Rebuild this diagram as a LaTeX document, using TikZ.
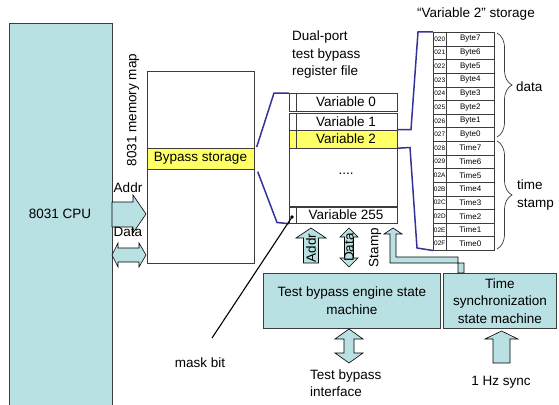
\documentclass[tikz,border=0pt]{standalone}
\usepackage{fontspec}
\setmainfont{Liberation Sans}
\usetikzlibrary{decorations.pathreplacing}
\definecolor{busfill}{RGB}{185,224,226}
\definecolor{hilite}{RGB}{255,255,102}
\definecolor{linkblue}{RGB}{51,51,153}
\definecolor{edge}{RGB}{60,60,60}
\tikzset{
  lbl/.style={font=\fontsize{13.5}{17.5}\selectfont, inner sep=0pt},
  blk/.style={draw=edge, line width=0.8pt, fill=busfill, inner sep=0pt, anchor=north west},
  mem/.style={draw=edge, line width=0.7pt, fill=white, inner sep=0pt, anchor=north west},
  bus/.style={draw=black, line width=0.6pt, fill=busfill, line join=miter},
  link/.style={draw=linkblue, line width=1.5pt},
  cell/.style={draw=edge, line width=0.5pt, fill=white, inner sep=0pt, anchor=north west, minimum height=13.625pt},
  addrtxt/.style={font=\fontsize{6.5}{7}\selectfont, inner sep=0pt},
  nametxt/.style={font=\fontsize{8}{9}\selectfont, inner sep=0pt},
  bracket/.style={draw=edge, line width=0.7pt, decorate, decoration={brace, amplitude=15pt}},
}
\begin{document}
\begin{tikzpicture}[x=1pt,y=-1pt]
\useasboundingbox (0,0) rectangle (559,404);

% processor block (runs off the bottom edge)
\node[blk, minimum width=103pt, minimum height=390pt] (cpu) at (9,23) {};
\node[lbl] (cpulbl) at (60,214) {8031 CPU};

% processor buses to the memory map
\path[bus] (112,202) -- (133,202) -- (133,195) -- (146,214) -- (133,233) -- (133,227) -- (112,227) -- cycle;
\node[lbl] (caddr) at (128,188) {Addr};
\path[bus] (112,255) -- (118,243) -- (118,248) -- (139,248) -- (139,243) -- (146,255)
  -- (139,267) -- (139,262) -- (118,262) -- (118,267) -- cycle;
\node[lbl] (cdata) at (128,232) {Data};

% memory map
\node[mem, minimum width=107pt, minimum height=192pt] (map) at (147,71) {};
\node[mem, fill=hilite, minimum width=107pt, minimum height=21pt] (byp) at (147,148) {};
\node[lbl] (byplbl) at (200.5,158.5) {Bypass storage};
\node[lbl, rotate=90] (maplbl) at (133,110) {8031 memory map};

% register file
\node[lbl, align=left, anchor=north west] (rftitle) at (292,31) {Dual-port\\test bypass\\register file};
\node[mem, minimum width=108pt, minimum height=18pt] (r0) at (289,93) {};
\node[mem, minimum width=108pt, minimum height=16.5pt] (r1) at (289,113) {};
\node[mem, fill=hilite, minimum width=108pt, minimum height=18pt] (r2) at (289,129.5) {};
\node[mem, minimum width=108pt, minimum height=58pt] (rdots) at (289,147.5) {};
\node[mem, minimum width=108pt, minimum height=16pt] (r255) at (289,207) {};
\node[mem, minimum width=6.5pt, minimum height=18pt] (m0) at (289,93) {};
\node[mem, minimum width=6.5pt, minimum height=16.5pt] (m1) at (289,113) {};
\node[mem, fill=hilite, minimum width=6.5pt, minimum height=18pt] (m2) at (289,129.5) {};
\node[mem, minimum width=6.5pt, minimum height=16pt] (m255) at (289,207) {};
\node[lbl] (t0) at (346,102) {Variable 0};
\node[lbl] (t1) at (346,121.3) {Variable 1};
\node[lbl] (t2) at (346,138.5) {Variable 2};
\node[lbl] (tdots) at (346,174) {....};
\node[lbl] (t255) at (346,215) {Variable 255};
\node[circle, fill=black, inner sep=0pt, minimum size=3.6pt] (maskdot) at (292,217) {};

% zoom lines from the memory map to the register file
\draw[link] (byp.north east) ++(2,-1) -- (274,93) -- (r0.north west);
\draw[link] (byp.south east) ++(3,2) -- (277,222.5) -- (r255.south west);

% storage of one variable
\node[lbl] (sttitle) at (476,14) {“Variable 2” storage};
\foreach \a/\n [count=\i from 0] in {020/Byte7,021/Byte6,022/Byte5,023/Byte4,024/Byte3,025/Byte2,026/Byte1,027/Byte0,028/Time7,029/Time6,02A/Time5,02B/Time4,02C/Time3,02D/Time2,02E/Time1,02F/Time0}{
  \node[cell, minimum width=13pt] (ad\i) at (433,{32+\i*13.625}) {};
  \node[cell, minimum width=48pt] (nm\i) at (446,{32+\i*13.625}) {};
  \node[addrtxt] at (ad\i.center) {\a};
  \node[nametxt] at (nm\i.center) {\n};
}

% zoom lines from Variable 2 to its storage
\draw[link] (r2.north east) -- (411,129.5) -- (418,32) -- (ad0.north west);
\draw[link] (r2.south east) -- (410,147.5) -- (417,248) -- (ad15.south west);

% braces
\draw[bracket] (497,33) -- (497,137);
\draw[bracket] (497,141) -- (497,249);
\node[lbl, anchor=west] (datalbl) at (516,87) {data};
\node[lbl, anchor=west, align=left] (stamplbl) at (517,195) {time\\stamp};

% state machines
\node[blk, minimum width=177pt, minimum height=55pt] (eng) at (263,273) {};
\node[lbl, align=center] (englbl) at (eng.center) {Test bypass engine state\\machine};
\node[blk, minimum width=113pt, minimum height=55pt] (sync) at (443,273) {};
\node[lbl, align=center] (synclbl) at (sync.center) {Time\\synchronization\\state machine};

% buses between the engine and the register file
\path[bus] (303.5,263) -- (303.5,238) -- (296,238) -- (311,228) -- (326,238) -- (318.5,238) -- (318.5,263) -- cycle;
\node[lbl, rotate=90] (eaddr) at (311,248) {Addr};
\path[bus] (349,228) -- (358,237) -- (353.5,237) -- (353.5,258) -- (358,258) -- (349,267)
  -- (340,258) -- (344.5,258) -- (344.5,237) -- (340,237) -- cycle;
\node[lbl, rotate=90] (edata) at (349,247.5) {Data};
\node[lbl, rotate=90] (estamp) at (375,247.5) {Stamp};
\path[bus] (393,228) -- (402,234) -- (396,234) -- (396,257) -- (458,257) -- (458,273)
  -- (464,273) -- (464,263) -- (390,263) -- (390,234) -- (384,234) -- cycle;

% external interfaces
\path[bus] (349,329) -- (363,339) -- (354,339) -- (354,353) -- (363,353) -- (349,363)
  -- (335,353) -- (344,353) -- (344,339) -- (335,339) -- cycle;
\node[lbl, align=left, anchor=north west] (tbif) at (310,369.5) {Test bypass\\interface};
\path[bus] (501.5,331) -- (518,339) -- (510,339) -- (510,363) -- (493,363) -- (493,339) -- (485,339) -- cycle;
\node[lbl] (hz) at (501,382) {1 Hz sync};

% mask bit callout
\coordinate (masktail) at (212,338);
\draw[line width=1.1pt] (maskdot.center) -- (masktail);
\node[lbl] (masklbl) at (200,363) {mask bit};
\end{tikzpicture}
\end{document}
